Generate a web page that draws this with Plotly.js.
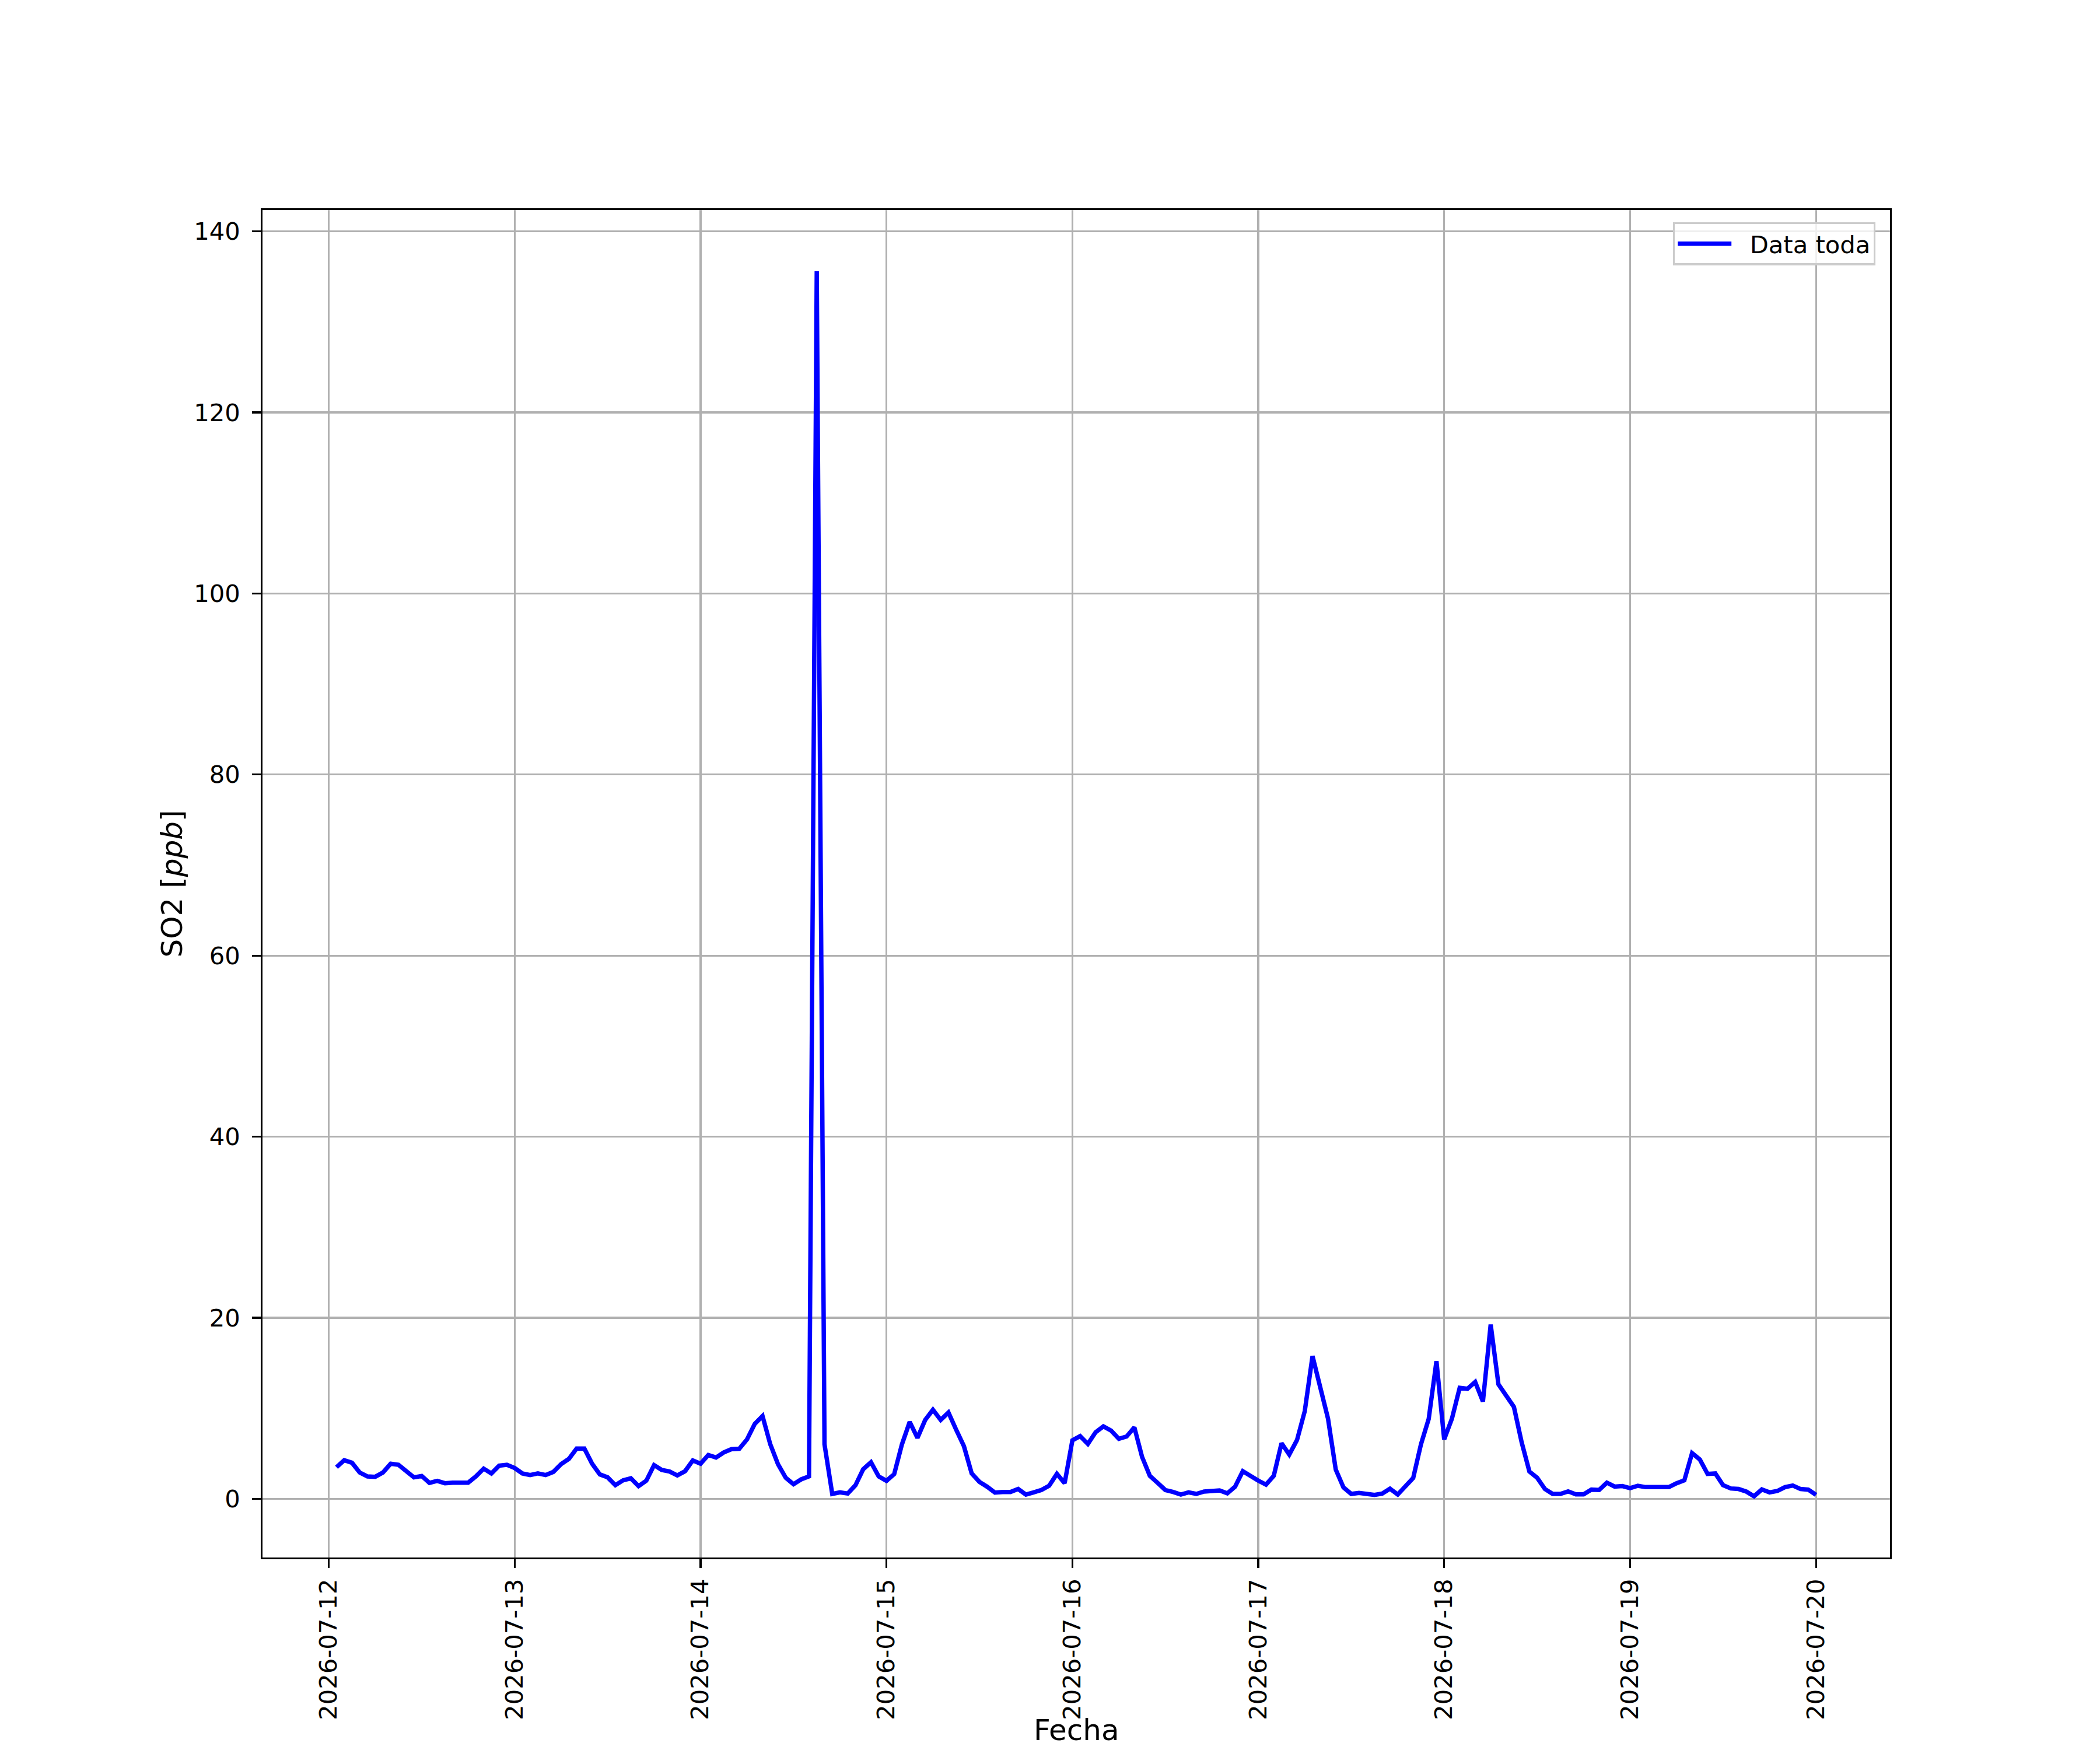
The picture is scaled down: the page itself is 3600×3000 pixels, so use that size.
<!DOCTYPE html>
<html>
<head>
<meta charset="utf-8">
<script src="https://cdn.plot.ly/plotly-3.0.1.min.js"></script>
<style>
  html, body { margin: 0; padding: 0; background: #fff; }
  #grafico { width: 3600px; height: 3000px; }
</style>
</head>
<body>
<div id="grafico"></div>
<script>
// datos horarios de SO2 (primera hora: 2026-07-12 01:00)
var dias = ['2026-07-12', '2026-07-13', '2026-07-14', '2026-07-15', '2026-07-16',
            '2026-07-17', '2026-07-18', '2026-07-19', '2026-07-20'];
var primera_hora = 1;

var so2_12 = [3.48, 4.26, 3.98, 2.9, 2.47, 2.43, 2.9, 3.87, 3.76, 3.05, 2.37, 2.52,
              1.76, 1.98, 1.72, 1.78, 1.83, 1.78, 2.47, 3.33, 2.8, 3.66, 3.76];
var so2_13 = [3.4, 2.8, 2.62, 2.8, 2.62, 2.97, 3.83, 4.41, 5.55, 5.55, 3.87, 2.69,
              2.37, 1.5, 2.04, 2.26, 1.4, 2.0, 3.72, 3.18, 3.01, 2.58, 3.05, 4.24];
var so2_14 = [3.87, 4.84, 4.56, 5.12, 5.48, 5.53, 6.56, 8.28, 9.14, 6.02, 3.81, 2.32,
              1.61, 2.15, 2.47, 135.6, 6.02, 0.54, 0.71, 0.58, 1.5, 3.27, 4.04, 2.47];
var so2_15 = [1.98, 2.73, 6.02, 8.49, 6.73, 8.71, 9.83, 8.71, 9.53, 7.63, 5.81, 2.8,
              1.87, 1.33, 0.69, 0.75, 0.75, 1.08, 0.47, 0.71, 0.97, 1.44, 2.75, 1.72];
var so2_16 = [6.45, 6.92, 6.06, 7.35, 8.0, 7.53, 6.62, 6.88, 7.89, 4.62, 2.54, 1.76,
              0.97, 0.75, 0.47, 0.71, 0.54, 0.8, 0.9, 0.92, 0.6, 1.33, 3.05, 2.5];
var so2_17 = [2.0, 1.57, 2.54, 6.13, 4.88, 6.49, 9.68, 15.76, 12.37, 8.86, 3.23, 1.25,
              0.54, 0.65, 0.54, 0.43, 0.58, 1.12, 0.47, 1.4, 2.3, 6.02, 8.82, 15.2];
var so2_18 = [6.56, 8.86, 12.26, 12.15, 12.9, 10.75, 19.25, 12.65, 11.29, 10.15, 6.24, 3.01,
              2.32, 1.08, 0.54, 0.54, 0.82, 0.49, 0.49, 1.01, 0.97, 1.78, 1.35, 1.4];
var so2_19 = [1.18, 1.44, 1.29, 1.29, 1.35, 1.29, 1.72, 2.04, 5.05, 4.34, 2.75, 2.8,
              1.5, 1.14, 1.08, 0.8, 0.28, 1.03, 0.71, 0.86, 1.29, 1.46, 1.08, 1.01];
var so2_20 = [0.43];

var por_dia = [so2_12, so2_13, so2_14, so2_15, so2_16, so2_17, so2_18, so2_19, so2_20];

var y_ticks = [0, 20, 40, 60, 80, 100, 120, 140];

function pad2(n) { return (n < 10 ? '0' : '') + n; }

var fechas = [];
var so2 = [];
for (var d = 0; d < dias.length; d++) {
  var h0 = (d === 0) ? primera_hora : 0;
  for (var k = 0; k < por_dia[d].length; k++) {
    fechas.push(dias[d] + ' ' + pad2(h0 + k) + ':00');
    so2.push(por_dia[d][k]);
  }
}

// margenes de 5% como matplotlib
function aMs(s) { return Date.parse(s.replace(' ', 'T') + ':00Z'); }
function aTexto(ms) {
  var t = new Date(ms).toISOString();
  return t.slice(0, 10) + ' ' + t.slice(11, 19);
}
var x0 = aMs(fechas[0]), x1 = aMs(fechas[fechas.length - 1]);
var dx = (x1 - x0) * 0.05;
var ymin = Math.min.apply(null, so2), ymax = Math.max.apply(null, so2);
var dy = (ymax - ymin) * 0.05;

var fuente = 'DejaVu Sans, Liberation Sans, sans-serif';

var data = [{
  x: fechas,
  y: so2,
  type: 'scatter',
  mode: 'lines',
  name: '\u00a0\u00a0Data toda',
  line: { color: '#0000ff', width: 7.5 }
}];

var ejeComun = {
  showline: true,
  mirror: true,
  linecolor: '#000',
  linewidth: 3.3,
  showgrid: true,
  gridcolor: '#b0b0b0',
  gridwidth: 3.3,
  zeroline: false,
  ticks: 'outside',
  ticklen: 14.6,
  tickwidth: 3.3,
  tickcolor: '#000',
  tickfont: { family: fuente, size: 41.7, color: '#000' }
};

var layout = {
  width: 3600,
  height: 3000,
  margin: { l: 450, r: 360, t: 360, b: 330, pad: 0 },
  paper_bgcolor: '#fff',
  plot_bgcolor: '#fff',
  font: { family: fuente, color: '#000' },
  showlegend: true,
  legend: {
    x: 0.991, y: 0.991, xanchor: 'right', yanchor: 'top',
    bgcolor: 'rgba(255,255,255,0.8)',
    bordercolor: '#cccccc',
    borderwidth: 3.3,
    itemwidth: 92,
    font: { family: fuente, size: 41.7, color: '#000' }
  },
  // el titulo del eje x va como anotacion: queda casi en el borde inferior
  annotations: [{
    text: 'Fecha',
    xref: 'paper', yref: 'paper',
    x: 0.5, y: -0.128,
    xanchor: 'center', yanchor: 'middle',
    showarrow: false,
    font: { family: fuente, size: 50, color: '#000' }
  }],
  xaxis: Object.assign({}, ejeComun, {
    type: 'date',
    range: [aTexto(x0 - dx), aTexto(x1 + dx)],
    tick0: dias[0],
    dtick: 86400000,
    tickformat: '%Y-%m-%d',
    tickangle: -90,
    ticklabelstandoff: 2
  }),
  yaxis: Object.assign({}, ejeComun, {
    range: [ymin - dy, ymax + dy],
    tickmode: 'array',
    tickvals: y_ticks,
    ticktext: y_ticks.map(String),
    ticklabelstandoff: 12,
    title: { text: 'SO2 [<i>ppb</i>]', font: { family: fuente, size: 50, color: '#000' }, standoff: 4 }
  })
};

Plotly.newPlot('grafico', data, layout, { displayModeBar: false, staticPlot: true });
</script>
</body>
</html>
